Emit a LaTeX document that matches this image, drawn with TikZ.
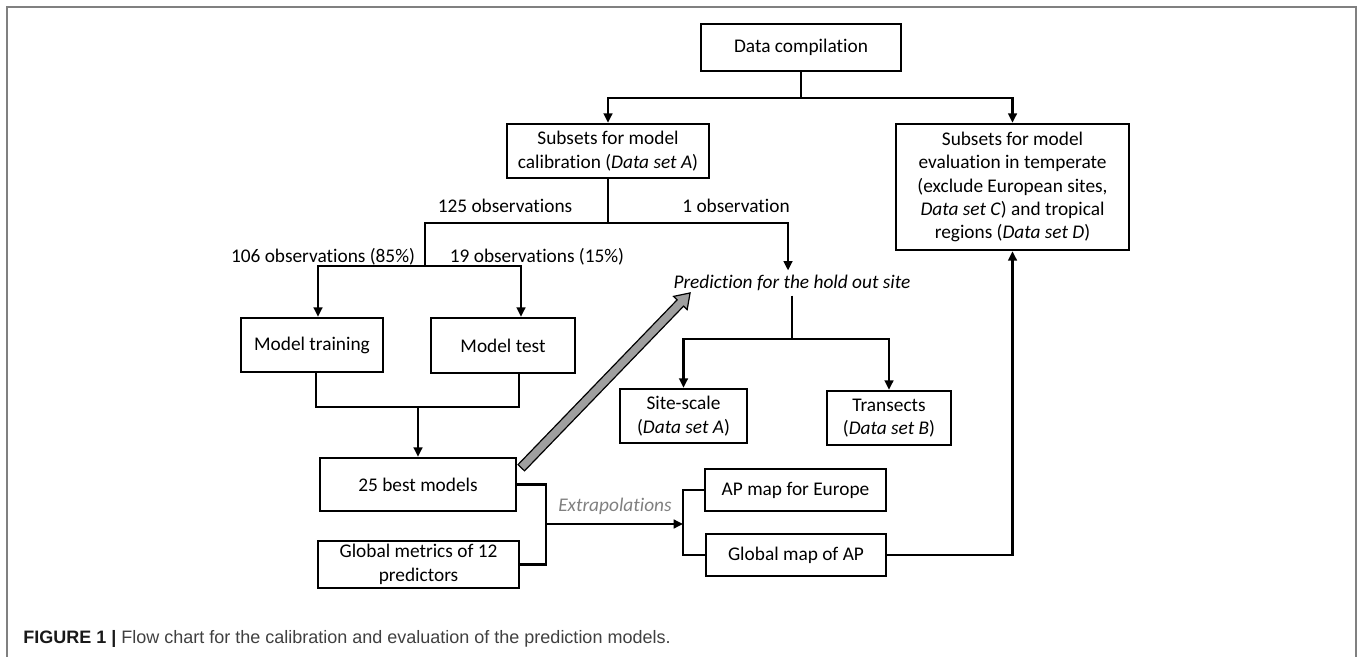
\documentclass[tikz,border=0pt]{standalone}
\usepackage{fontspec}
\setmainfont{Carlito}[Ligatures=NoCommon]
\newfontfamily\capfont{Liberation Sans}
\usetikzlibrary{arrows.meta,calc}

\tikzset{
  box/.style={draw, line width=1.9pt, align=center, inner sep=0pt},
  link/.style={line width=1.7pt},
  arr/.style={link, -{Triangle[length=7pt,width=6.5pt]}},
}

\begin{document}
\begin{tikzpicture}[x=0.75pt, y=-0.75pt, font=\fontsize{14.5}{17.5}\selectfont]
  \useasboundingbox (0,0) rectangle (1358,656);
  \draw[gray, line width=1.2pt] (7,662) -- (7,7) -- (1356,7) -- (1356,662);

  % boxes
  \node[box, minimum width=150pt, minimum height=35.25pt] (data) at (801,47.5) {Data compilation};
  \node[box, minimum width=151.5pt, minimum height=40.5pt] (calib) at (608,151) {Subsets for model\\calibration (\textit{Data set A})};
  \node[box, minimum width=175pt, minimum height=94.5pt] (eval) at (1012.5,187) {Subsets for model\\evaluation in temperate\\(exclude European sites,\\\textit{Data set C}) and tropical\\regions (\textit{Data set D})};
  \node[box, minimum width=106.5pt, minimum height=40.5pt] (train) at (312,345) {Model training};
  \node[box, minimum width=108pt, minimum height=41.25pt] (test) at (503,345.5) {Model test};
  \node[box, minimum width=147pt, minimum height=39.75pt] (best) at (418,484.5) {25 best models};
  \node[box, minimum width=150.75pt, minimum height=35.25pt] (metrics) at (418.5,564.5) {Global metrics of 12\\predictors};
  \node (pred) at (792,283) {\textit{Prediction for the hold out site}};
  \node[box, minimum width=95.25pt, minimum height=40.5pt] (site) at (683.5,416) {Site-scale\\(\textit{Data set A})};
  \node[box, minimum width=93pt, minimum height=40.5pt] (trans) at (889,418) {Transects\\(\textit{Data set B})};
  \node[box, minimum width=135.75pt, minimum height=31.5pt] (europe) at (795.5,490) {AP map for Europe};
  \node[box, minimum width=135pt, minimum height=31.5pt] (global) at (796,555) {Global map of AP};

  % labels
  \node (obs125) at (505,206) {125 observations};
  \node (obs1) at (736,206) {1 observation};
  \node (obs106) at (323,257) {106 observations (85\%)};
  \node (obs19) at (537,257) {19 observations (15\%)};
  \node[text=gray] (extra) at (615,506) {\itshape Extrapolations};

  % splits
  \coordinate (j1) at (801,98);
  \draw[link] (data) -- (j1);
  \draw[arr] (j1) -| (calib.north);
  \draw[arr] (j1) -| (eval.north);

  \coordinate (j2) at (608,223);
  \coordinate (j2l) at (425,223);
  \coordinate (j2r) at (788,223);
  \coordinate (j3) at (425,266);
  \coordinate (j3l) at (318,266);
  \coordinate (j3r) at (521,266);
  \draw[link] (calib) -- (j2);
  \draw[arr] (j3) -- (j2l) -- (j2r) -- (j2r |- pred.north);
  \draw[arr] (j3) -- (j3l) -- (j3l |- train.north);
  \draw[arr] (j3) -- (j3r) -- (j3r |- test.north);

  \coordinate (j4) at (418,407);
  \coordinate (j4l) at (316,407);
  \coordinate (j4r) at (519,407);
  \draw[link] (j4l |- train.south) -- (j4l) -- (j4r) -- (j4r |- test.south);
  \draw[arr] (j4) -- (best);

  \coordinate (j5) at (546,524);
  \coordinate (j6) at (683,524);
  \draw[link] (best.east) -| (j5) |- (metrics.east);
  \draw[arr] (j5) -- (j6);
  \draw[link] (europe.west) -| (j6) |- (global.west);
  \draw[arr] (global.east) -| (eval.south);

  \coordinate (j7) at (792,339);
  \draw[link] (pred) -- (j7);
  \draw[arr] (j7) -| (site.north);
  \draw[arr] (j7) -| (trans.north);

  % gray block arrow
  \coordinate (gtail) at ($(best.north east)+(4,11)$);
  \begin{scope}[shift={(gtail)}, rotate=46]
    \filldraw[fill=gray!75, draw=black, line width=0.9pt] (0,-4.5) -- (229,-4.5) -- (229,-9.5) -- (243,0) -- (229,9.5) -- (229,4.5) -- (0,4.5) -- cycle;
  \end{scope}

  % caption
  \node[anchor=base west, inner sep=0pt, font=\capfont\fontsize{13.5}{16}\selectfont] (cap) at (23,643)
    {\textcolor{black!90}{\textbf{FIGURE 1 |}} \textcolor{black!75}{Flow chart for the calibration and evaluation of the prediction models.}};
\end{tikzpicture}
\end{document}
